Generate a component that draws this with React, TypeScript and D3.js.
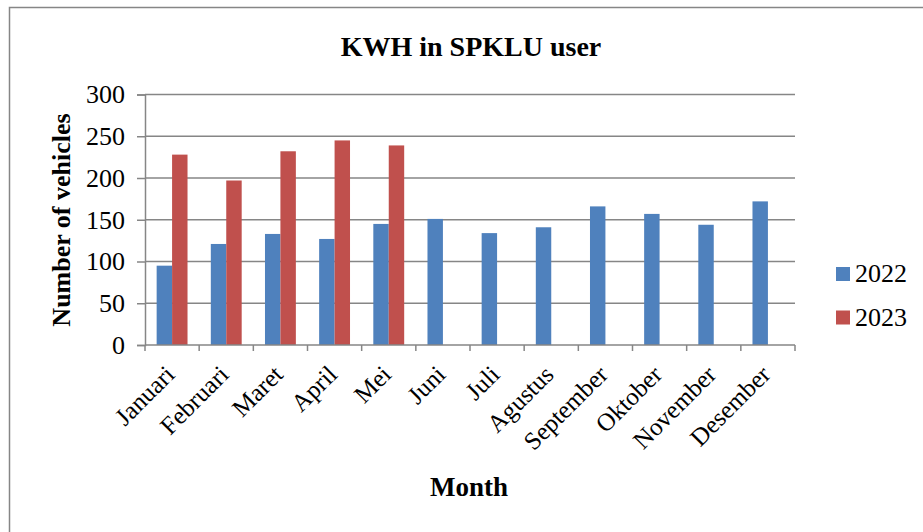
import { useEffect, useRef } from "react";
import * as d3 from "d3";

const months = [
  "Januari", "Februari", "Maret", "April", "Mei", "Juni",
  "Juli", "Agustus", "September", "Oktober", "November", "Desember",
];
const seriesNames = ["2022", "2023"];
const values2022 = [95, 121, 133, 127, 145, 151, 134, 141, 166, 157, 144, 172];
const values2023 = [228, 197, 232, 245, 239];
const yTicks = [0, 50, 100, 150, 200, 250, 300];
const colors = ["#4F81BD", "#C0504D"];

const W = 923;
const H = 532;

export default function App() {
  const svgRef = useRef<SVGSVGElement>(null);

  useEffect(() => {
    if (!svgRef.current) return;
    const svg = d3.select(svgRef.current);
    svg.selectAll("*").remove();

    const left = 145;
    const right = 795;
    const top = 94.5;
    const bottom = 345;
    const grey = "#868686";
    const serif = "Liberation Serif, Times New Roman, DejaVu Serif, serif";

    // outer frame
    svg.append("rect")
      .attr("x", 9.5).attr("y", 7.5)
      .attr("width", W).attr("height", H)
      .attr("fill", "white")
      .attr("stroke", grey).attr("stroke-width", 1.5);

    const x = d3.scaleBand<string>()
      .domain(months)
      .range([left, right])
      .paddingInner(0.43)
      .paddingOuter(0.215);
    const xs = d3.scaleBand<string>()
      .domain(seriesNames)
      .range([0, x.bandwidth()]);
    const y = d3.scaleLinear().domain([0, 300]).range([bottom, top]);

    // gridlines
    svg.append("g")
      .selectAll("line")
      .data(yTicks.filter((t) => t > 0))
      .join("line")
      .attr("x1", left).attr("x2", right)
      .attr("y1", (d) => y(d)).attr("y2", (d) => y(d))
      .attr("stroke", grey).attr("stroke-width", 1.5);

    // bars
    const rows = months.map((m, i) => ({
      month: m,
      vals: [values2022[i], values2023[i]],
    }));
    const groups = svg.append("g")
      .selectAll("g")
      .data(rows)
      .join("g")
      .attr("transform", (d) => `translate(${x(d.month)},0)`);
    groups.selectAll("rect")
      .data((d) => d.vals.map((v, k) => ({ v, k })).filter((e) => e.v != null))
      .join("rect")
      .attr("x", (e) => xs(seriesNames[e.k]) as number)
      .attr("width", xs.bandwidth())
      .attr("y", (e) => y(e.v))
      .attr("height", (e) => bottom - y(e.v))
      .attr("fill", (e) => colors[e.k]);

    // y axis
    const yAxis = svg.append("g")
      .attr("transform", `translate(${left},0)`)
      .call(d3.axisLeft(y).tickValues(yTicks).tickSize(8).tickPadding(12));
    yAxis.attr("font-family", null).attr("font-size", null);
    yAxis.select(".domain").attr("stroke", grey).attr("stroke-width", 1.5);
    yAxis.selectAll(".tick line").attr("stroke", grey).attr("stroke-width", 1.5);
    yAxis.selectAll("text")
      .style("font-family", serif).style("font-size", "26px").attr("fill", "#000");

    // x axis line and boundary ticks
    svg.append("line")
      .attr("x1", left).attr("x2", right)
      .attr("y1", bottom).attr("y2", bottom)
      .attr("stroke", grey).attr("stroke-width", 1.5);
    svg.append("g")
      .selectAll("line")
      .data(d3.range(months.length + 1))
      .join("line")
      .attr("x1", (i) => left + i * x.step()).attr("x2", (i) => left + i * x.step())
      .attr("y1", bottom).attr("y2", bottom + 6)
      .attr("stroke", grey).attr("stroke-width", 1.5);

    // month labels
    svg.append("g")
      .selectAll("text")
      .data(months)
      .join("text")
      .attr("transform", (m) =>
        `translate(${(x(m) as number) + x.bandwidth() / 2 + 4},${bottom + 31}) rotate(-45)`)
      .attr("text-anchor", "end")
      .style("font-family", serif).style("font-size", "25px").attr("fill", "#000")
      .text((m) => m);

    // titles
    svg.append("text")
      .attr("x", 471).attr("y", 56)
      .attr("text-anchor", "middle")
      .style("font-family", serif).style("font-size", "28px").attr("font-weight", "bold")
      .text("KWH in SPKLU user");
    svg.append("text")
      .attr("x", 469).attr("y", 496)
      .attr("text-anchor", "middle")
      .style("font-family", serif).style("font-size", "27px").attr("font-weight", "bold")
      .text("Month");
    svg.append("text")
      .attr("transform", `translate(70,220) rotate(-90)`)
      .attr("text-anchor", "middle")
      .style("font-family", serif).style("font-size", "26px").attr("font-weight", "bold")
      .text("Number of vehicles");

    // legend
    const legend = svg.append("g")
      .selectAll("g")
      .data(seriesNames)
      .join("g")
      .attr("transform", (_d, i) => `translate(836,${267 + i * 43.5})`);
    legend.append("rect")
      .attr("width", 14).attr("height", 14)
      .attr("fill", (_d, i) => colors[i]);
    legend.append("text")
      .attr("x", 19).attr("y", 15)
      .style("font-family", serif).style("font-size", "26px").attr("fill", "#000")
      .text((d) => d);
  }, []);

  return (
    <svg
      ref={svgRef}
      width={W}
      height={H}
      style={{ position: "absolute", left: 0, top: 0, background: "white" }}
    />
  );
}
